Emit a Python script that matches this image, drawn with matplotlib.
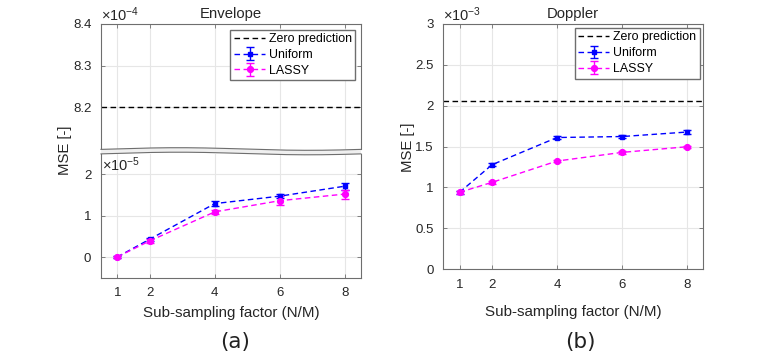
import numpy as np
import matplotlib
matplotlib.use("Agg")
import matplotlib.pyplot as plt
from matplotlib.patches import Polygon

plt.rcParams["font.family"] = ["Liberation Sans", "DejaVu Sans"]
plt.rcParams["mathtext.fontset"] = "custom"
plt.rcParams["mathtext.rm"] = "Liberation Sans"
plt.rcParams["mathtext.it"] = "Liberation Sans"

# data
factors = [1, 2, 4, 6, 8]

env_zero = 8.2e-4
env_uniform = [0.00e-5, 0.43e-5, 1.29e-5, 1.47e-5, 1.71e-5]
env_uniform_err = [0.02e-5, 0.04e-5, 0.06e-5, 0.05e-5, 0.08e-5]
env_lassy = [0.00e-5, 0.39e-5, 1.09e-5, 1.36e-5, 1.52e-5]
env_lassy_err = [0.02e-5, 0.05e-5, 0.05e-5, 0.11e-5, 0.11e-5]

dop_zero = 2.057e-3
dop_uniform = [0.939e-3, 1.277e-3, 1.610e-3, 1.622e-3, 1.677e-3]
dop_uniform_err = [0.015e-3, 0.02e-3, 0.02e-3, 0.02e-3, 0.02e-3]
dop_lassy = [0.939e-3, 1.061e-3, 1.322e-3, 1.428e-3, 1.497e-3]
dop_lassy_err = [0.015e-3, 0.015e-3, 0.015e-3, 0.015e-3, 0.015e-3]

W, H = 777, 353
fig = plt.figure(figsize=(W / 100, H / 100), dpi=100)

SPINE = "#6e6e6e"
GRID = "#e6e6e6"
TXT = "#262626"


def px_axes(x0, y0, x1, y1):
    # pixel box (top-left origin) -> figure axes
    return fig.add_axes([x0 / W, 1 - y1 / H, (x1 - x0) / W, (y1 - y0) / H])


def style(ax):
    ax.set_xlim(0.5, 8.5)
    ax.set_xticks(factors)
    ax.grid(True, color=GRID, lw=0.8)
    ax.set_axisbelow(True)
    ax.tick_params(direction="in", length=3, width=0.6, color=SPINE,
                   labelsize=9.5, labelcolor=TXT, top=True, right=True, pad=7)
    for s in ax.spines.values():
        s.set_color(SPINE)
        s.set_linewidth(0.8)


def draw_series(ax, x, uni, uni_err, las, las_err, scale):
    ax.errorbar(x, np.array(uni) / scale, yerr=np.array(uni_err) / scale,
                color="#0000ff", ls="--", lw=1.0, marker="s", ms=3.5,
                capsize=3, capthick=1.0, elinewidth=1.0, label="Uniform",
                dashes=(4, 2.5))
    ax.errorbar(x, np.array(las) / scale, yerr=np.array(las_err) / scale,
                color="#ff00ff", ls="--", lw=1.0, marker="o", ms=4.2,
                capsize=3, capthick=1.0, elinewidth=1.0, label="LASSY",
                dashes=(4, 2.5))


def add_legend(ax, pad):
    ax.legend(loc="upper right", fontsize=8.9, frameon=True, fancybox=False,
              edgecolor=SPINE, handlelength=2.5, handletextpad=0.3,
              labelspacing=0.3, borderpad=0.3, borderaxespad=pad,
              framealpha=1)


# ---------- (a) Envelope: broken axis ----------
ax_top = px_axes(101, 24, 361, 149)
ax_bot = px_axes(101, 153.5, 361, 277.7)
for ax in (ax_top, ax_bot):
    style(ax)

ax_top.set_ylim(8.1, 8.4)
ax_top.set_yticks([8.2, 8.3, 8.4])
ax_top.set_yticklabels(["8.2", "8.3", "8.4"])
ax_top.tick_params(labelbottom=False, bottom=False)
ax_top.spines["bottom"].set_visible(False)
ax_top.plot([0.5, 8.5], [env_zero / 1e-4] * 2, color="k", ls="--",
            lw=1.0, dashes=(4, 2.5), label="Zero prediction")
# empty series so the legend on the upper part gets the error bar handles
draw_series(ax_top, factors, [np.nan] * 5, [0] * 5, [np.nan] * 5, [0] * 5, 1)
add_legend(ax_top, 0.45)
ax_top.set_title("Envelope", fontsize=10.7, color=TXT, pad=4)
ax_top.text(0.0, 1.0, r"$\times10^{-4}$", transform=ax_top.transAxes,
            fontsize=10.5, color=TXT, ha="left", va="bottom")

ax_bot.set_ylim(-0.5, 2.5)
ax_bot.set_yticks([0, 1, 2])
ax_bot.spines["top"].set_visible(False)
ax_bot.tick_params(top=False)
draw_series(ax_bot, factors, env_uniform, env_uniform_err, env_lassy,
            env_lassy_err, 1e-5)
ax_bot.text(0.005, 0.985, r"$\times10^{-5}$", transform=ax_bot.transAxes,
            fontsize=10.5, color=TXT, ha="left", va="top")

# wavy break band between the two parts
xs = np.linspace(101, 361, 200)
t = (xs - 101) / 260
y_top = 149 - 1.3 * np.sin(2 * np.pi * t - 0.3)
y_bot = y_top + 4.5
band = np.concatenate([np.c_[xs, y_top], np.c_[xs[::-1], y_bot[::-1]]])
band_fig = np.c_[band[:, 0] / W, 1 - band[:, 1] / H]
fig.patches.append(Polygon(band_fig, closed=True, transform=fig.transFigure,
                           facecolor="#efefef", edgecolor="none", zorder=5))
fig.lines.append(plt.Line2D(xs / W, 1 - y_top / H, transform=fig.transFigure,
                            color=SPINE, lw=0.8, zorder=6))
fig.lines.append(plt.Line2D(xs / W, 1 - y_bot / H, transform=fig.transFigure,
                            color=SPINE, lw=0.8, zorder=6))

fig.text(65 / W, 1 - 150 / H, "MSE [-]", rotation=90, fontsize=10.7,
         color=TXT, ha="center", va="center")
fig.text(231 / W, 1 - 313 / H, "Sub-sampling factor (N/M)", fontsize=10.9,
         color=TXT, ha="center", va="center")
fig.text(235 / W, 1 - 342 / H, "(a)", family="DejaVu Sans", fontsize=15.5,
         color="#222222", ha="center", va="center")

# ---------- (b) Doppler ----------
ax_d = px_axes(443.3, 24, 703.3, 269)
style(ax_d)
ax_d.set_ylim(0, 3)
ax_d.set_yticks([0, 0.5, 1, 1.5, 2, 2.5, 3])
ax_d.set_yticklabels(["0", "0.5", "1", "1.5", "2", "2.5", "3"])
ax_d.plot([0.5, 8.5], [dop_zero / 1e-3] * 2, color="k", ls="--", lw=1.0,
          dashes=(4, 2.5), label="Zero prediction")
draw_series(ax_d, factors, dop_uniform, dop_uniform_err, dop_lassy,
            dop_lassy_err, 1e-3)
add_legend(ax_d, 0.3)
ax_d.set_title("Doppler", fontsize=10.7, color=TXT, pad=4)
ax_d.text(0.0, 1.0, r"$\times10^{-3}$", transform=ax_d.transAxes,
          fontsize=10.5, color=TXT, ha="left", va="bottom")

fig.text(408 / W, 1 - 147 / H, "MSE [-]", rotation=90, fontsize=10.7,
         color=TXT, ha="center", va="center")
fig.text(573 / W, 1 - 312 / H, "Sub-sampling factor (N/M)", fontsize=10.9,
         color=TXT, ha="center", va="center")
fig.text(580 / W, 1 - 342 / H, "(b)", family="DejaVu Sans", fontsize=15.5,
         color="#222222", ha="center", va="center")

fig.savefig("out.png", dpi=100)
